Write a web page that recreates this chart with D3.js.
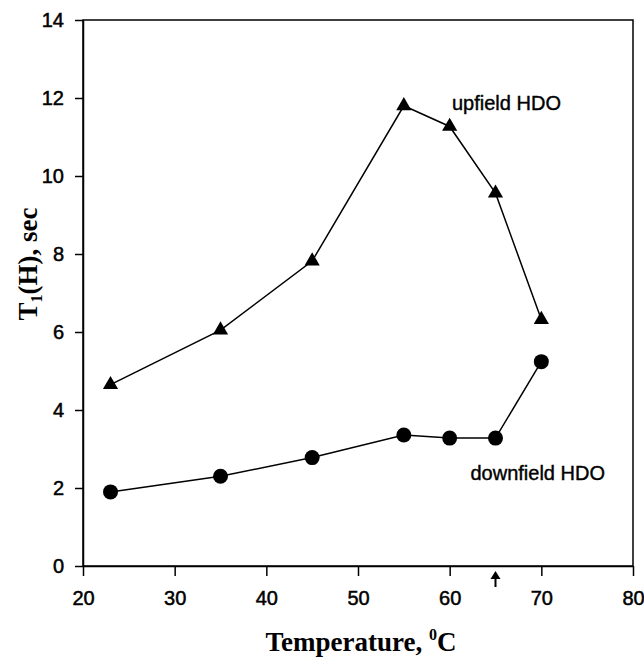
<!DOCTYPE html>
<html>

<head>
  <meta charset="utf-8">
  <title>T1(H) vs temperature</title>
  <script src="https://d3js.org/d3.v7.min.js"></script>
  <style>
    body { margin: 0; background: #fff; }
  </style>
</head>

<body>
  <div id='view'></div>
  <script>
    // data
    var temps = [23, 35, 45, 55, 60, 65, 70];
    var upfield = [4.65, 6.05, 7.82, 11.8, 11.27, 9.56, 6.32];
    var downfield = [1.9, 2.3, 2.78, 3.36, 3.28, 3.28, 5.24];
    var xTicks = [20, 30, 40, 50, 60, 70, 80];
    var yTicks = [0, 2, 4, 6, 8, 10, 12, 14];
    var arrowTemp = 65;

    var width = 644;
    var height = 659;
    var margin = { top: 20, right: 11, bottom: 93, left: 83 };

    var svg = d3.select("#view")
      .append("svg")
      .attr("width", width)
      .attr("height", height);

    var x = d3.scaleLinear()
      .domain([20, 80])
      .range([margin.left, width - margin.right]);

    var y = d3.scaleLinear()
      .domain([0, 14])
      .range([height - margin.bottom, margin.top]);

    var tickFont = "'Liberation Sans', Arial, sans-serif";
    var titleFont = "'Liberation Serif', 'Times New Roman', serif";

    // frame
    svg.append("rect")
      .attr("x", x(20))
      .attr("y", y(14))
      .attr("width", x(80) - x(20))
      .attr("height", y(0) - y(14))
      .attr("fill", "none")
      .attr("stroke", "#000")
      .attr("stroke-width", 1.5);

    var xAxis = svg.append("g")
      .attr("transform", "translate(0," + y(0) + ")")
      .call(d3.axisBottom(x).tickValues(xTicks).tickSize(10).tickPadding(15).tickSizeOuter(0));

    var yAxis = svg.append("g")
      .attr("transform", "translate(" + x(20) + ",0)")
      .call(d3.axisLeft(y).tickValues(yTicks).tickSize(8).tickPadding(11).tickSizeOuter(0));

    [xAxis, yAxis].forEach(function (g) {
      g.select(".domain").attr("stroke-width", 1.5);
      g.selectAll(".tick line").attr("stroke-width", 1.5);
      g.selectAll(".tick text")
        .attr("font-family", tickFont)
        .attr("font-size", 20)
        .attr("fill", "#000")
        .attr("stroke", "#000")
        .attr("stroke-width", 0.5);
    });

    // lines
    var line = d3.line()
      .x(function (d, i) { return x(temps[i]); })
      .y(function (d) { return y(d); });

    svg.append("path")
      .datum(upfield)
      .attr("d", line)
      .attr("fill", "none")
      .attr("stroke", "#000")
      .attr("stroke-width", 1.5);

    svg.append("path")
      .datum(downfield)
      .attr("d", line)
      .attr("fill", "none")
      .attr("stroke", "#000")
      .attr("stroke-width", 1.5);

    // markers
    var tri = d3.symbol().type(d3.symbolTriangle).size(100);
    svg.selectAll(".tri")
      .data(upfield)
      .enter()
      .append("path")
      .attr("class", "tri")
      .attr("d", tri)
      .attr("transform", function (d, i) {
        return "translate(" + x(temps[i]) + "," + y(d) + ")";
      })
      .attr("fill", "#000");

    svg.selectAll(".dot")
      .data(downfield)
      .enter()
      .append("circle")
      .attr("class", "dot")
      .attr("cx", function (d, i) { return x(temps[i]); })
      .attr("cy", function (d) { return y(d); })
      .attr("r", 7.5)
      .attr("fill", "#000");

    // series labels
    svg.append("text")
      .attr("x", 452)
      .attr("y", 110)
      .attr("font-family", tickFont)
      .attr("font-size", 20)
      .attr("stroke", "#000")
      .attr("stroke-width", 0.4)
      .text("upfield HDO");

    svg.append("text")
      .attr("x", 605)
      .attr("y", 480)
      .attr("text-anchor", "end")
      .attr("font-family", tickFont)
      .attr("font-size", 20)
      .attr("stroke", "#000")
      .attr("stroke-width", 0.4)
      .text("downfield HDO");

    // arrow below the axis
    var ax = x(arrowTemp);
    var ay = y(0);
    svg.append("line")
      .attr("x1", ax).attr("x2", ax)
      .attr("y1", ay + 10).attr("y2", ay + 21)
      .attr("stroke", "#000")
      .attr("stroke-width", 2);
    svg.append("path")
      .attr("d", "M" + ax + "," + (ay + 5) + "L" + (ax - 5) + "," + (ay + 13) + "L" + (ax + 5) + "," + (ay + 13) + "Z")
      .attr("fill", "#000");

    // axis titles
    var xt = svg.append("text")
      .attr("x", (x(20) + x(80)) / 2 + 3)
      .attr("y", 651)
      .attr("text-anchor", "middle")
      .attr("font-family", titleFont)
      .attr("font-weight", "bold")
      .attr("font-size", 27);
    xt.append("tspan").text("Temperature, ");
    xt.append("tspan").attr("font-size", 16).attr("dy", -11).text("0");
    xt.append("tspan").attr("dy", 11).text("C");

    var yt = svg.append("text")
      .attr("transform", "translate(37," + 264 + ") rotate(-90)")
      .attr("text-anchor", "middle")
      .attr("font-family", titleFont)
      .attr("font-weight", "bold")
      .attr("font-size", 27);
    yt.append("tspan").text("T");
    yt.append("tspan").attr("font-size", 16).attr("dy", 5).text("1");
    yt.append("tspan").attr("dy", -5).text("(H), sec");
  </script>
</body>

</html>
